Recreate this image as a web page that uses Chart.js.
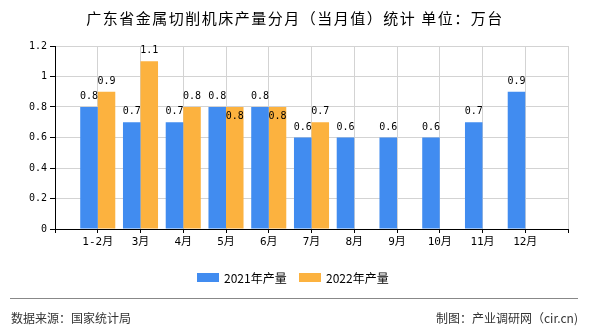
<!DOCTYPE html>
<html>
<head>
<meta charset="utf-8">
<script src="https://cdn.jsdelivr.net/npm/chart.js@4/dist/chart.umd.min.js"></script>
<style>
    html, body { margin: 0; padding: 0; background: #fff; }
    #wrap { width: 590px; height: 330px; position: relative; }
</style>
</head>
<body>
<div id="wrap"><canvas id="bar-chart" width="590" height="330"></canvas></div>
<script>
// DATA
const months = ["1-2月", "3月", "4月", "5月", "6月", "7月", "8月", "9月", "10月", "11月", "12月"];
const output2021 = [0.8, 0.7, 0.7, 0.8, 0.8, 0.6, 0.6, 0.6, 0.6, 0.7, 0.9];
const output2022 = [0.9, 1.1, 0.8, 0.8, 0.8, 0.7];
const yTicks = [0, 0.2, 0.4, 0.6, 0.8, 1, 1.2];
const seriesNames = ["2021年产量", "2022年产量"];
const seriesColors = ["#418cf0", "#fcb23f"];

const titleText = "广东省金属切削机床产量分月（当月值）统计 单位：万台";
const sourceText = "数据来源：国家统计局";
const creditText = "制图：产业调研网（cir.cn)";

const CJK = "'Noto Sans CJK SC', sans-serif";
const MONO = "'DejaVu Sans Mono', 'Noto Sans CJK SC', monospace";

// blank slot at each end, so the months sit on the grid lines
const labels = ["", ...months, ""];
const pad = (arr) => [null, ...arr, ...Array(labels.length - 1 - arr.length).fill(null)];

// PLUGINS
const whiteBg = {
    id: "whiteBg",
    beforeDraw: (chart) => {
        const ctx = chart.ctx;
        ctx.save();
        ctx.fillStyle = "#fff";
        ctx.fillRect(0, 0, chart.width, chart.height);
        ctx.restore();
    },
};

const valueLabels = {
    id: "valueLabels",
    afterDatasetsDraw: (chart) => {
        const ctx = chart.ctx;
        const m0 = chart.getDatasetMeta(0);
        const m1 = chart.getDatasetMeta(1);
        ctx.save();
        ctx.font = "10px " + MONO;
        ctx.fillStyle = "#000";
        ctx.textAlign = "center";
        ctx.textBaseline = "alphabetic";
        chart.data.datasets.forEach((ds, di) => {
            const meta = chart.getDatasetMeta(di);
            meta.data.forEach((bar, i) => {
                const v = ds.data[i];
                if (v === null || v === undefined) return;
                let y = bar.y - 8;
                // second series label goes inside the bar when it would clash with the first
                if (di === 1) {
                    const other = m0.data[i];
                    const ov = chart.data.datasets[0].data[i];
                    if (ov !== null && Math.abs(other.y - bar.y) < 10) y = bar.y + 12;
                }
                ctx.fillText(String(v), bar.x, y);
            });
        });
        ctx.restore();
    },
};

const decorations = {
    id: "decorations",
    afterDraw: (chart) => {
        const ctx = chart.ctx;
        ctx.save();
        // title
        ctx.fillStyle = "#000";
        ctx.font = "15px " + CJK;
        ctx.letterSpacing = "1.5px";
        ctx.textAlign = "center";
        ctx.textBaseline = "middle";
        ctx.fillText(titleText, 295, 18);
        ctx.letterSpacing = "0px";
        // legend
        ctx.font = "12px " + CJK;
        ctx.textAlign = "left";
        const legendX = [197, 299];
        seriesNames.forEach((name, i) => {
            ctx.fillStyle = seriesColors[i];
            ctx.fillRect(legendX[i], 273, 22, 9);
            ctx.fillStyle = "#000";
            ctx.fillText(name, legendX[i] + 27, 278);
        });
        // footer
        ctx.strokeStyle = "#888";
        ctx.lineWidth = 1;
        ctx.beginPath();
        ctx.moveTo(10, 298.5);
        ctx.lineTo(578, 298.5);
        ctx.stroke();
        ctx.fillStyle = "#333";
        ctx.font = "12px " + CJK;
        ctx.textAlign = "left";
        ctx.fillText(sourceText, 11, 318);
        ctx.textAlign = "right";
        ctx.fillText(creditText, 578, 318);
        ctx.restore();
    },
};

// CHART
const barChart = document.getElementById("bar-chart");
const config = {
    type: "bar",
    data: {
        labels: labels,
        datasets: [
            { label: seriesNames[0], data: pad(output2021), backgroundColor: seriesColors[0] },
            { label: seriesNames[1], data: pad(output2022), backgroundColor: seriesColors[1] },
        ],
    },
    options: {
        responsive: false,
        animation: false,
        categoryPercentage: 0.82,
        barPercentage: 1.0,
        layout: { padding: { top: 46, right: 22, bottom: 71, left: 0 } },
        plugins: {
            legend: { display: false },
            title: { display: false },
            tooltip: { enabled: false },
        },
        scales: {
            x: {
                offset: false,
                grid: { offset: false, color: "#d3d3d3", tickColor: "#000", tickLength: 4 },
                border: { color: "#000" },
                ticks: {
                    autoSkip: false,
                    maxRotation: 0,
                    padding: 3,
                    color: "#000",
                    font: { family: MONO, size: 11 },
                },
                afterFit: (scale) => { scale.height = 30; },
            },
            y: {
                min: 0,
                max: 1.2,
                afterBuildTicks: (scale) => { scale.ticks = yTicks.map((v) => ({ value: v })); },
                grid: { color: "#d3d3d3", tickColor: "#000", tickLength: 5 },
                border: { color: "#000" },
                ticks: {
                    padding: 3,
                    color: "#000",
                    font: { family: MONO, size: 10 },
                    callback: (v) => String(Number(v.toFixed(1))),
                },
                afterFit: (scale) => { scale.width = 55; },
            },
        },
    },
    plugins: [whiteBg, valueLabels, decorations],
};
// @ts-ignore
const barChartCanvas = new Chart(barChart, config);
</script>
</body>
</html>
